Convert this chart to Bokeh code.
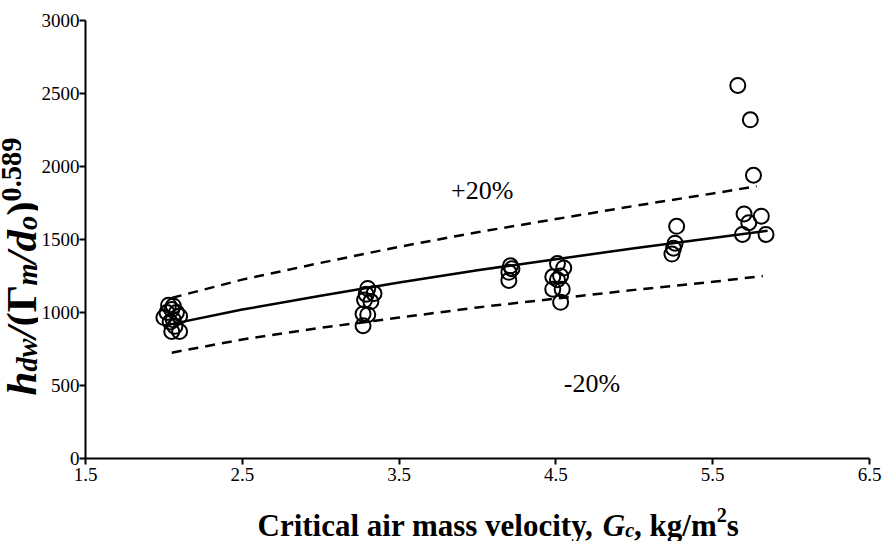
import math
from bokeh.plotting import figure
from bokeh.models import Label, FixedTicker, Range1d
from bokeh.layouts import row, column
from bokeh.embed import file_html
from bokeh.resources import INLINE

# ---- data ----
G_C = [2.00, 2.03, 2.06, 2.05, 2.08, 2.04, 2.10, 2.07, 2.05, 2.10, 2.02, 2.06,
       3.30, 3.29, 3.34, 3.28, 3.32, 3.27, 3.30, 3.27,
       4.21, 4.22, 4.20, 4.20,
       4.51, 4.55, 4.48, 4.53, 4.51, 4.48, 4.54, 4.53,
       5.27, 5.26, 5.25, 5.24,
       5.66, 5.74, 5.76, 5.70, 5.81, 5.73, 5.69, 5.84]
H_NORM = [965, 1050, 1045, 1020, 1000, 935, 975, 905, 870, 870, 1000, 950,
          1165, 1125, 1130, 1085, 1075, 990, 985, 910,
          1320, 1300, 1275, 1220,
          1335, 1305, 1245, 1250, 1225, 1160, 1160, 1070,
          1590, 1475, 1440, 1400,
          2555, 2320, 1940, 1675, 1660, 1615, 1535, 1535]

FIT_G = [2.0, 2.5, 3.0, 3.5, 4.0, 4.5, 5.0, 5.5, 5.85]
FIT_H = [910, 1020, 1115, 1205, 1290, 1365, 1440, 1510, 1560]
UP_G = [2.05, 2.5, 3.0, 3.5, 4.0, 4.5, 5.0, 5.5, 5.78]
UP_H = [1100, 1225, 1340, 1450, 1550, 1640, 1730, 1815, 1865]
LO_G = [2.05, 2.5, 3.0, 3.5, 4.0, 4.5, 5.0, 5.5, 5.82]
LO_H = [725, 815, 895, 965, 1035, 1095, 1155, 1210, 1250]

X_TICKS = [1.5, 2.5, 3.5, 4.5, 5.5, 6.5]
Y_TICKS = [0, 500, 1000, 1500, 2000, 2500, 3000]

FONT = "Liberation Serif"


def blank_fig(w, h):
    f = figure(width=w, height=h, min_border=0, x_range=Range1d(0, w), y_range=Range1d(0, h),
               x_axis_location=None, y_axis_location=None,
               output_backend="svg", toolbar_location=None)
    f.outline_line_color = None
    f.grid.visible = False
    f.background_fill_color = "white"
    f.border_fill_color = "white"
    return f


p = figure(frame_width=784, frame_height=438,
           min_border_left=44, min_border_right=13,
           min_border_top=20, min_border_bottom=40,
           x_range=Range1d(1.5, 6.5), y_range=Range1d(0, 3000),
           output_backend="svg", toolbar_location=None)
p.outline_line_color = None
p.xgrid.visible = False
p.ygrid.visible = False
p.background_fill_color = "white"
p.border_fill_color = "white"

for ax in (p.xaxis[0], p.yaxis[0]):
    ax.axis_line_width = 2
    ax.axis_line_color = "black"
    ax.major_tick_line_width = 2
    ax.major_tick_line_color = "black"
    ax.major_tick_out = 6
    ax.major_tick_in = 0
    ax.minor_tick_out = 0
    ax.minor_tick_in = 0
    ax.major_label_text_font = FONT
    ax.major_label_text_font_size = "19px"
    ax.major_label_text_color = "black"
p.yaxis.major_label_standoff = 0
p.xaxis.major_label_standoff = 3
p.xaxis.ticker = FixedTicker(ticks=X_TICKS)
p.yaxis.ticker = FixedTicker(ticks=Y_TICKS)

p.line(FIT_G, FIT_H, line_color="black", line_width=2.5)
p.line(UP_G, UP_H, line_color="black", line_width=2.5, line_dash="10 7")
p.line(LO_G, LO_H, line_color="black", line_width=2.5, line_dash="10 7")
p.scatter(G_C, H_NORM, marker="circle", size=15, fill_color=None,
          line_color="black", line_width=2)

p.add_layout(Label(x=4.03, y=1836, text="+20%", text_font=FONT, text_font_size="26px",
                   text_align="center", text_baseline="middle", text_color="black"))
p.add_layout(Label(x=4.73, y=514, text="-20%", text_font=FONT, text_font_size="26px",
                   text_align="center", text_baseline="middle", text_color="black"))

# approximate Times Bold / Bold Italic advance widths (per 1000 em)
TB = {' ': 250, ',': 250, '/': 278, '(': 333, ')': 333, '.': 250, 'C': 722, 'G': 778,
      'Γ': 620, 'a': 500, 'c': 444, 'e': 444, 'g': 500, 'i': 278, 'k': 556, 'l': 278,
      'm': 833, 'o': 500, 'r': 444, 's': 389, 't': 333, 'v': 500, 'y': 500}
TBI = {'h': 556, 'd': 500, 'w': 667, 'm': 778, 'o': 500, 'c': 444, 'G': 722, '/': 278}


def text_width(s, style, size):
    tab = TBI if "italic" in style else TB
    return sum(tab.get(ch, 500) for ch in s) / 1000.0 * size


def rich(fig, pieces, x0, y0, base, vertical=False):
    pos = 0.0
    for text, style, scale, shift in pieces:
        size = base * scale
        off = shift * base
        if vertical:
            lx, ly, ang = x0 - off, y0 + pos, math.pi / 2
        else:
            lx, ly, ang = x0 + pos, y0 + off, 0.0
        fig.add_layout(Label(x=lx, y=ly, x_units="screen", y_units="screen", text=text,
                             text_font=FONT, text_font_size=f"{size:.1f}px",
                             text_font_style=style, angle=ang, text_align="left",
                             text_baseline="alphabetic", text_color="black"))
        pos += text_width(text, style, size)


X_TITLE = [("Critical air mass velocity, ", "bold", 1, 0),
           ("G", "bold italic", 1, 0), ("c", "bold italic", 0.65, -0.15),
           (", kg/m", "bold", 1, 0), ("2", "bold", 0.65, 0.35), ("s", "bold", 1, 0)]
Y_TITLE = [("h", "bold italic", 1, 0), ("dw", "bold italic", 0.66, -0.13),
           ("/", "bold italic", 1, 0), ("(", "bold", 1, 0), ("Γ", "bold", 1, 0),
           ("m", "bold italic", 0.66, -0.13), ("/", "bold italic", 1, 0),
           ("d", "bold italic", 1, 0), ("o", "bold italic", 0.66, -0.13),
           (")", "bold", 1, 0), ("0.589", "bold", 0.66, 0.24)]

yfig = blank_fig(38, 541)
xfig = blank_fig(845, 43)
rich(xfig, X_TITLE, 172, 16, 31)
rich(yfig, Y_TITLE, 21, 146, 43, vertical=True)

layout = row(yfig, column(p, xfig))
open("out.html", "w").write(file_html(layout, INLINE))
